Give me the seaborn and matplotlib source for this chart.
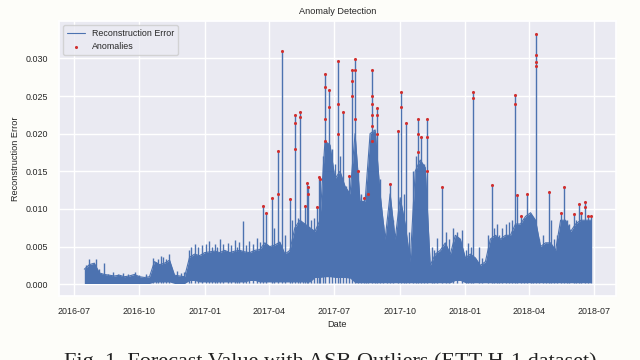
import numpy as np
import pandas as pd
import matplotlib
matplotlib.use("Agg")
import matplotlib.pyplot as plt
import seaborn as sns

# dense part of the reconstruction error (x 1e-3)
band_top = [
    2.0, 2.6, 2.8, 1.5, 1.3, 1.2, 1.1, 1.2, 1.0, 1.1,
    1.3, 1.0, 0.9, 1.0, 3.0, 2.6, 2.8, 3.2, 1.2, 1.1,
    1.0, 3.6, 4.0, 3.8, 4.2, 4.3, 4.4, 4.2, 4.5, 4.2,
    4.4, 4.5, 4.3, 4.2, 4.5, 4.6, 5.5, 5.0, 5.2, 5.6,
    4.0, 4.5, 7.5, 8.5, 8.0, 7.5, 7.0, 8.5, 19.0, 18.5,
    14.0, 15.0, 13.0, 12.0, 20.0, 11.0, 11.0, 20.0, 20.5, 12.0,
    6.0, 12.0, 6.0, 11.5, 8.0, 3.0, 15.0, 16.5, 15.5, 2.5,
    4.0, 4.5, 5.5, 4.0, 6.5, 6.0, 3.5, 4.0, 3.5, 2.5,
    3.0, 6.0, 6.5, 6.0, 6.5, 6.5, 8.0, 8.0, 9.0, 9.5,
    8.5, 5.0, 5.5, 5.5, 4.5, 8.5, 8.5, 7.0, 8.0, 8.5,
    8.5, 8.5,
]
band_bottom = [
    0.1, 0.1, 0.1, 0.1, 0.1, 0.1, 0.1, 0.1, 0.1, 0.1,
    0.1, 0.1, 0.1, 0.1, 0.3, 0.3, 0.3, 0.3, 0.1, 0.1,
    0.1, 0.5, 0.5, 0.3, 0.3, 0.3, 0.3, 0.3, 0.3, 0.3,
    0.3, 0.3, 0.3, 0.5, 0.5, 0.3, 0.3, 0.3, 0.3, 0.3,
    0.3, 0.3, 0.3, 0.3, 0.3, 0.3, 0.9, 0.9, 1.0, 1.0,
    0.9, 0.9, 0.9, 0.8, 0.2, 0.2, 0.2, 0.2, 0.2, 0.2,
    0.2, 0.2, 0.2, 0.2, 0.2, 0.2, 0.2, 0.2, 0.2, 0.2,
    0.2, 0.2, 0.2, 0.2, 0.5, 0.5, 0.2, 0.2, 0.2, 0.2,
    0.2, 0.2, 0.2, 0.2, 0.2, 0.2, 0.2, 0.2, 0.2, 0.2,
    0.2, 0.2, 0.2, 0.2, 0.2, 0.2, 0.2, 0.2, 0.2, 0.2,
    0.2, 0.2,
]

# single spikes sticking out of the band (date, peak x 1e-3)
spike_dates = [
    "2016-07-22", "2016-07-28", "2016-08-01", "2016-08-13", "2016-08-25",
    "2016-09-08", "2016-09-25", "2016-10-20", "2016-10-28", "2016-11-04",
    "2016-11-12", "2016-11-23", "2016-12-10", "2016-12-18", "2016-12-28",
    "2017-01-07", "2017-01-15", "2017-01-22", "2017-02-02", "2017-02-12",
    "2017-02-18", "2017-02-24", "2017-03-04", "2017-03-15", "2017-03-24",
    "2017-03-28", "2017-04-05", "2017-04-14", "2017-04-19", "2017-04-30",
    "2017-05-07", "2017-05-15", "2017-05-22", "2017-05-24", "2017-05-26",
    "2017-06-07", "2017-06-10", "2017-06-12", "2017-06-19", "2017-06-24",
    "2017-07-07", "2017-07-14", "2017-07-22", "2017-07-26", "2017-07-31",
    "2017-08-04", "2017-08-12", "2017-08-18", "2017-08-23", "2017-08-31",
    "2017-09-18", "2017-09-29", "2017-10-03", "2017-10-10", "2017-10-27",
    "2017-10-31", "2017-11-08", "2017-11-15", "2017-11-22", "2017-11-29",
    "2017-12-05", "2017-12-15", "2017-12-27", "2018-01-05", "2018-01-12",
    "2018-01-20", "2018-02-07", "2018-02-14", "2018-02-22", "2018-03-03",
    "2018-03-12", "2018-03-15", "2018-03-20", "2018-03-29", "2018-04-03",
    "2018-04-10", "2018-04-20", "2018-04-29", "2018-05-02", "2018-05-10",
    "2018-05-15", "2018-05-20", "2018-05-27", "2018-06-02", "2018-06-09",
    "2018-06-13", "2018-06-18", "2018-06-22", "2018-06-26",
]
spike_vals = [
    3.3, 2.4, 3.4, 2.8, 1.6,
    1.5, 1.6, 3.5, 3.3, 3.6,
    4.0, 1.7, 4.6, 5.4, 5.2,
    5.8, 5.4, 6.0, 5.5, 5.9,
    5.6, 8.4, 5.8, 6.2, 10.4,
    9.4, 11.5, 17.7, 31.0, 11.3,
    22.5, 22.9, 10.4, 13.5, 12.9,
    10.2, 14.2, 14.0, 27.9, 25.8,
    29.6, 22.9, 14.4, 28.4, 29.9,
    15.1, 11.5, 12.0, 28.5, 23.4,
    13.3, 20.3, 25.5, 21.4, 22.0,
    19.5, 22.0, 5.0, 6.2, 12.9,
    7.0, 7.5, 7.2, 5.5, 25.5,
    5.0, 13.2, 8.0, 7.5, 8.3,
    25.1, 11.8, 9.0, 12.0, 8.0,
    33.3, 6.5, 12.3, 8.5, 6.5,
    9.5, 12.9, 8.0, 9.3, 10.6,
    9.5, 10.9, 9.0, 9.0,
]

# smaller wiggles inside the band, not flagged as anomalies (x 1e-3)
minor_dates = [
    "2016-07-19", "2016-08-06", "2016-08-18", "2016-09-01", "2016-09-15",
    "2016-10-01", "2016-10-11", "2016-10-24", "2016-11-01", "2016-11-08",
    "2016-11-28", "2016-12-03", "2016-12-13", "2016-12-23", "2017-01-03",
    "2017-01-11", "2017-01-18", "2017-01-27", "2017-02-07", "2017-02-15",
    "2017-02-28", "2017-03-09", "2017-03-19", "2017-04-08", "2017-04-24",
    "2017-05-03", "2017-05-11", "2017-05-18", "2017-05-30", "2017-06-03",
    "2017-06-15", "2017-06-28", "2017-07-02", "2017-07-10", "2017-07-18",
    "2017-08-08", "2017-08-15", "2017-08-27", "2017-09-04", "2017-09-08",
    "2017-09-14", "2017-09-22", "2017-10-07", "2017-10-14", "2017-10-20",
    "2017-10-24", "2017-11-04", "2017-11-19", "2017-12-10", "2017-12-21",
    "2018-01-02", "2018-01-09", "2018-01-25", "2018-02-02", "2018-02-10",
    "2018-02-18", "2018-02-27", "2018-03-08", "2018-03-24", "2018-04-06",
    "2018-04-15", "2018-04-25", "2018-05-06", "2018-05-24", "2018-06-06",
]
minor_vals = [
    2.6, 2.0, 1.4, 1.3, 1.4,
    1.2, 1.4, 3.0, 3.8, 3.4,
    1.5, 1.6, 4.9, 5.0, 5.3,
    5.0, 4.9, 5.4, 5.2, 5.0,
    5.2, 5.3, 5.6, 7.5, 6.5,
    8.5, 8.8, 8.0, 8.5, 8.8,
    17.0, 18.0, 16.0, 17.0, 13.0,
    12.0, 10.0, 20.0, 14.0, 8.0,
    7.0, 8.5, 12.0, 7.0, 15.0,
    17.0, 16.0, 4.5, 6.0, 7.0,
    4.5, 5.0, 3.5, 6.5, 7.5,
    6.5, 8.0, 8.5, 8.8, 8.8,
    6.0, 5.5, 6.0, 8.5, 8.5,
]

# extra anomaly dots lying on the big spikes below their peaks (x 1e-3)
extra_anom_dates = [
    "2017-05-07", "2017-05-07", "2017-05-15", "2017-06-19", "2017-06-19",
    "2017-06-19", "2017-06-24", "2017-07-07", "2017-07-07", "2017-07-26",
    "2017-07-26", "2017-07-31", "2017-07-31", "2017-08-23", "2017-08-23",
    "2017-08-23", "2017-08-23", "2017-08-23", "2017-08-31", "2017-08-31",
    "2017-10-03", "2017-10-27", "2017-10-27", "2017-11-08", "2017-11-08",
    "2018-01-12", "2018-03-12", "2018-04-10", "2018-04-10", "2018-04-10",
    "2017-04-14", "2017-05-26", "2018-06-18",
]
extra_anom_vals = [
    21.4, 18.0, 22.2, 26.2, 22.0,
    19.0, 23.5, 24.0, 20.0, 27.0,
    25.0, 28.5, 22.0, 25.0, 24.0,
    22.5, 21.0, 19.0, 22.5, 20.0,
    23.5, 20.0, 17.5, 19.5, 15.0,
    24.8, 24.0, 30.5, 29.5, 29.0,
    12.0, 12.0, 10.2,
]

threshold = 9.0

band = pd.DataFrame({
    "Date": pd.date_range("2016-07-16", "2018-06-26", periods=len(band_top)),
    "top": np.array(band_top) / 1000,
    "bottom": np.array(band_bottom) / 1000,
})
spikes = pd.DataFrame({"Date": pd.to_datetime(spike_dates),
                       "err": np.array(spike_vals) / 1000})
minor = pd.DataFrame({"Date": pd.to_datetime(minor_dates),
                      "err": np.array(minor_vals) / 1000})
anom = pd.concat([
    spikes[spikes["err"] >= threshold / 1000],
    pd.DataFrame({"Date": pd.to_datetime(extra_anom_dates),
                  "err": np.array(extra_anom_vals) / 1000}),
])

sns.set_theme(style="darkgrid")
plt.rcParams["font.family"] = ["Liberation Sans", "DejaVu Sans"]
blue = "#4C72B0"

fig = plt.figure(figsize=(6.4, 3.6), dpi=100, facecolor="#fdfdf9")
ax = fig.add_axes([59 / 640, 1 - 296 / 360, 557 / 640, 275 / 360])

ax.fill_between(band["Date"], band["bottom"], band["top"], color=blue, lw=0)
sns.lineplot(data=band, x="Date", y="top", color=blue, lw=0.8, ax=ax,
             label="Reconstruction Error")
ax.vlines(minor["Date"], 0.0002, minor["err"], color=blue, lw=1.0)
ax.vlines(spikes["Date"], 0.0002, spikes["err"], color=blue, lw=1.0)
sns.scatterplot(data=anom, x="Date", y="err", color="#d03030", s=5,
                linewidth=0, ax=ax, label="Anomalies", zorder=5)

ax.set_title("Anomaly Detection", fontsize=6.6, pad=5)
ax.set_xlabel("Date", fontsize=6.6, labelpad=3)
ax.set_ylabel("Reconstruction Error", fontsize=6.6, labelpad=4)
ax.tick_params(labelsize=6.4, pad=2)
ax.yaxis.set_major_formatter(matplotlib.ticker.FormatStrFormatter("%.3f"))
ax.legend(loc="upper left", fontsize=6.4, markerscale=1.0)

# caption of the paper figure, cut by the bottom edge as in the source image
fig.text(330 / 640, 1 - 352 / 360, "Fig. 1. Forecast Value with ASB Outliers (ETT-H-1 dataset)",
         ha="center", va="top", fontsize=16, family=["Liberation Serif", "DejaVu Serif"],
         color="#222222")

fig.savefig("out.png", dpi=100, facecolor=fig.get_facecolor())
